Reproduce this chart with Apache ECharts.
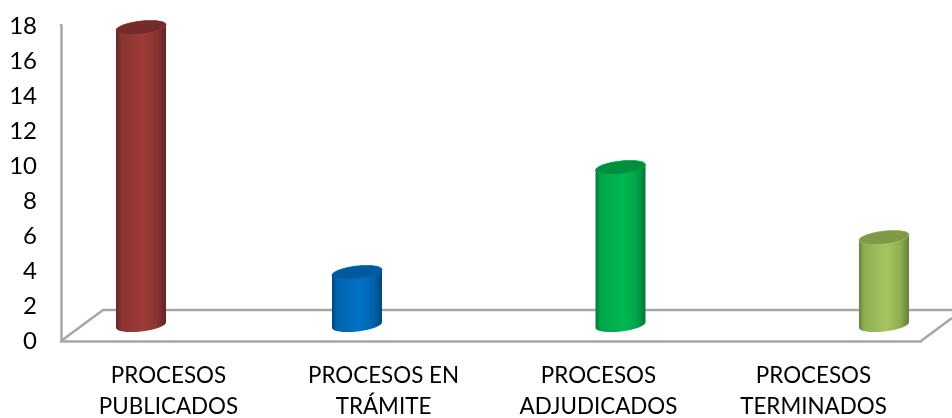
<!DOCTYPE html>
<html>
<head>
<meta charset="utf-8">
<style>html,body{margin:0;padding:0;background:#fff}#c{width:952px;height:418px}</style>
<script src="https://cdn.jsdelivr.net/npm/echarts@6/dist/echarts.min.js"></script>
</head>
<body>
<div id="c"></div>
<script>
const categories = ['PROCESOS\nPUBLICADOS', 'PROCESOS EN\nTRÁMITE', 'PROCESOS\nADJUDICADOS', 'PROCESOS\nTERMINADOS'];
const values = [17, 3, 9, 5];
const yTicks = [0, 18, 2];

// [edge, shoulder, middle, cap]
const palettes = [
  ['#5f2625', '#8a3432', '#9e3b39', '#742c2b'],
  ['#00477c', '#0064ae', '#0072c6', '#005a9c'],
  ['#007a38', '#00a548', '#00b850', '#008f3f'],
  ['#66803a', '#8fae50', '#a5c562', '#7e9a48']
];
const slots = [-1.02, -1, 0, 1];   // cluster position of each column inside its category
const SLOT_W = 48.5, R = 25, B = 6.5, SHEAR = -0.11;
const DEPTH_X = 42, DEPTH_Y = 31, BASE_DX = 22, BASE_DY = 16;

function ellipsePoints(cx, cy, from, to, n) {
  const pts = [];
  for (let i = 0; i <= n; i++) {
    const t = from + (to - from) * i / n;
    const dx = R * Math.cos(t);
    pts.push([cx + dx, cy + B * Math.sin(t) + SHEAR * dx]);
  }
  return pts;
}

function renderCylinder(params, api) {
  const i = api.value(0);
  const base = api.coord([i, 0]);
  const top = api.coord([i, api.value(1)]);
  const p = palettes[i];
  const cx = base[0] + BASE_DX + slots[i] * SLOT_W;
  const by = base[1] - BASE_DY, ty = top[1] - BASE_DY;
  const grad = new echarts.graphic.LinearGradient(0, 0, 1, 0, [
    {offset: 0, color: p[0]}, {offset: 0.1, color: p[1]}, {offset: 0.55, color: p[2]},
    {offset: 0.82, color: p[1]}, {offset: 1, color: p[0]}
  ]);
  const body = ellipsePoints(cx, by, 0, Math.PI, 36)
    .concat(ellipsePoints(cx, ty, Math.PI, 2 * Math.PI, 36));
  return {
    type: 'group',
    children: [
      {type: 'polygon', shape: {points: body}, style: {fill: grad}},
      {type: 'polygon', shape: {points: ellipsePoints(cx, ty, 0, 2 * Math.PI, 72)},
       style: {fill: p[3], stroke: p[2], lineWidth: 0.6}}
    ]
  };
}

function renderFloor(params, api) {
  const o = api.coord([0, 0]);
  const c = params.coordSys;
  const x0 = c.x, x1 = c.x + c.width, y = o[1];
  const s = {stroke: '#a6a6a6', lineWidth: 2.5, fill: null};
  return {
    type: 'group',
    children: [
      {type: 'polyline', shape: {points: [[x0, y], [x0 + DEPTH_X, y - DEPTH_Y], [952, y - DEPTH_Y]]}, style: s},
      {type: 'line', shape: {x1: x1, y1: y, x2: x1 + 31, y2: y - 23}, style: s},
      {type: 'line', shape: {x1: x0, y1: c.y, x2: x0, y2: c.y - 2}, style: s}
    ]
  };
}

const chart = echarts.init(document.getElementById('c'), null, {renderer: 'canvas'});
const font = 'Lato, Carlito, sans-serif';
chart.setOption({
  animation: false,
  backgroundColor: '#fff',
  grid: {left: 61, right: 31, top: 26, bottom: 77, outerBoundsMode: 'none'},
  xAxis: {
    type: 'category', data: categories,
    axisTick: {show: false},
    axisLine: {lineStyle: {color: '#a6a6a6', width: 2.5}},
    axisLabel: {color: '#000', fontFamily: font, fontSize: 22.4, lineHeight: 31, margin: 19, interval: 0, hideOverlap: false}
  },
  yAxis: {
    type: 'value', min: yTicks[0], max: yTicks[1], interval: yTicks[2],
    splitLine: {show: false},
    axisTick: {show: false},
    axisLine: {show: true, lineStyle: {color: '#a6a6a6', width: 2.5}},
    axisLabel: {color: '#000', fontFamily: font, fontSize: 24, margin: 24}
  },
  series: [
    {type: 'custom', z: 1, clip: false, silent: true, renderItem: renderFloor, data: [[0, 0]]},
    {type: 'custom', z: 2, clip: false, renderItem: renderCylinder, encode: {x: 0, y: 1},
     data: values.map((v, i) => [i, v])}
  ]
});
</script>
</body>
</html>
